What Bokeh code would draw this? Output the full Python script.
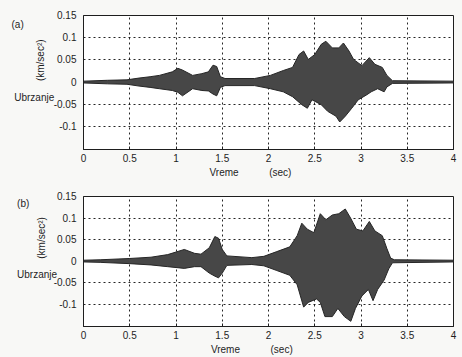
from bokeh.plotting import figure
from bokeh.layouts import column
from bokeh.models import FixedTicker, Range1d
from bokeh.embed import file_html
from bokeh.resources import INLINE

# ---------------- data (envelopes) ----------------
x_ticks = [0, 0.5, 1, 1.5, 2, 2.5, 3, 3.5, 4]
x_tick_labels = ["0", "0.5", "1", "1.5", "2", "2.5", "3", "3.5", "4"]
y_ticks = [-0.1, -0.05, 0, 0.05, 0.1, 0.15]
y_tick_labels = ["-0.1", "-0.05", "0", "0.05", "0.1", "0.15"]

# (a) upper / lower envelope of the acceleration record
a_up_t = [0, 0.26, 0.47, 0.6, 0.72, 0.82, 0.96, 1.02, 1.07, 1.18, 1.28, 1.35, 1.40, 1.44, 1.48,
          1.53, 1.85, 2.02, 2.16, 2.26, 2.33, 2.38, 2.43, 2.50, 2.57, 2.62, 2.69, 2.76, 2.81,
          2.87, 2.92, 3.01, 3.09, 3.15, 3.23, 3.28, 3.34, 4.0]
a_up_v = [0.002, 0.004, 0.005, 0.009, 0.012, 0.015, 0.023, 0.031, 0.027, 0.015, 0.019, 0.023,
          0.038, 0.035, 0.012, 0.008, 0.008, 0.015, 0.026, 0.033, 0.062, 0.070, 0.051, 0.062,
          0.085, 0.092, 0.077, 0.077, 0.088, 0.070, 0.051, 0.037, 0.055, 0.040, 0.033, 0.015,
          0.003, 0.002]
a_lo_t = [0, 0.26, 0.47, 0.6, 0.72, 0.82, 0.96, 1.02, 1.07, 1.18, 1.28, 1.35, 1.40, 1.44, 1.48,
          1.53, 1.85, 2.02, 2.16, 2.26, 2.36, 2.42, 2.47, 2.57, 2.64, 2.73, 2.77, 2.83, 2.90,
          2.97, 3.06, 3.11, 3.18, 3.25, 3.28, 3.34, 4.0]
a_lo_v = [-0.002, -0.004, -0.005, -0.009, -0.012, -0.015, -0.019, -0.023, -0.031, -0.015,
          -0.019, -0.020, -0.027, -0.031, -0.012, -0.008, -0.008, -0.015, -0.022, -0.033,
          -0.051, -0.059, -0.040, -0.051, -0.066, -0.077, -0.090, -0.077, -0.059, -0.040,
          -0.029, -0.022, -0.015, -0.022, -0.011, -0.003, -0.002]

# (b) upper / lower envelope
b_up_t = [0, 0.18, 0.5, 0.73, 0.91, 1.09, 1.2, 1.27, 1.36, 1.42, 1.46, 1.5, 1.55, 1.82, 1.95,
          2.09, 2.23, 2.31, 2.36, 2.42, 2.49, 2.56, 2.62, 2.69, 2.76, 2.83, 2.89, 2.95, 3.02,
          3.09, 3.15, 3.23, 3.28, 3.32, 3.36, 4.0]
b_up_v = [0.002, 0.003, 0.006, 0.009, 0.015, 0.027, 0.018, 0.016, 0.031, 0.057, 0.053, 0.027,
          0.012, 0.008, 0.011, 0.022, 0.033, 0.059, 0.088, 0.074, 0.066, 0.110, 0.096, 0.107,
          0.110, 0.121, 0.099, 0.074, 0.070, 0.092, 0.070, 0.059, 0.029, 0.007, 0.003, 0.002]
b_lo_t = [0, 0.18, 0.5, 0.73, 0.91, 1.09, 1.2, 1.27, 1.36, 1.42, 1.46, 1.5, 1.55, 1.82, 1.95,
          2.09, 2.23, 2.31, 2.38, 2.43, 2.52, 2.56, 2.61, 2.69, 2.75, 2.82, 2.89, 2.94, 3.01,
          3.08, 3.13, 3.18, 3.25, 3.30, 3.34, 4.0]
b_lo_v = [-0.002, -0.003, -0.006, -0.009, -0.013, -0.017, -0.013, -0.013, -0.028, -0.035,
          -0.039, -0.028, -0.010, -0.008, -0.011, -0.022, -0.033, -0.055, -0.107, -0.096,
          -0.088, -0.096, -0.129, -0.129, -0.110, -0.129, -0.140, -0.110, -0.081, -0.066,
          -0.092, -0.066, -0.044, -0.018, -0.004, -0.002]

FONT = "Liberation Sans"
BG = "#f8f8f6"
INK = "#1e1e1e"
NB = "\u00a0"


def make_panel(up_t, up_v, lo_t, lo_v, height, b_left, b_right, b_top, b_bottom,
               tag, tag_y, tag_pad, side_y, side_pad, unit_pad, unit_standoff, x_label):
    p = figure(width=462, height=height, output_backend="svg", toolbar_location=None,
               x_range=Range1d(0, 4), y_range=Range1d(-0.152, 0.15),
               min_border_left=b_left, min_border_right=b_right,
               min_border_top=b_top, min_border_bottom=b_bottom)
    p.background_fill_color = "white"
    p.border_fill_color = BG
    p.outline_line_color = INK
    p.outline_line_width = 1

    # y axis: numeric ticks plus the panel tag and the side caption as extra labels
    yt = y_ticks + [tag_y, side_y]
    yl = y_tick_labels + [tag + NB * tag_pad, "Ubrzanje" + NB * side_pad]
    p.yaxis.ticker = FixedTicker(ticks=yt)
    p.yaxis.major_label_overrides = dict(zip(yt, yl))
    p.xaxis.ticker = FixedTicker(ticks=x_ticks)
    p.xaxis.major_label_overrides = dict(zip(x_ticks, x_tick_labels))
    for ax in (p.xaxis, p.yaxis):
        ax.axis_line_color = INK
        ax.major_tick_line_color = INK
        ax.major_tick_out = 0
        ax.minor_tick_line_color = None
        ax.major_label_text_font = FONT
        ax.major_label_text_font_size = "10px"
        ax.major_label_text_color = INK
        ax.axis_label_text_font = FONT
        ax.axis_label_text_font_style = "normal"
        ax.axis_label_text_color = INK
    p.xaxis.major_tick_in = 3
    p.yaxis.major_tick_in = 0
    p.xaxis.major_label_standoff = 4
    p.yaxis.major_label_standoff = 7

    p.yaxis.axis_label = NB * unit_pad + "(km/sec\u00b2)"
    p.yaxis.axis_label_text_font_size = "10px"
    p.yaxis.axis_label_standoff = unit_standoff

    p.xaxis.axis_label = x_label
    p.xaxis.axis_label_text_font_size = "10px"
    p.xaxis.axis_label_standoff = 2

    p.xgrid.ticker = FixedTicker(ticks=x_ticks[1:-1])
    p.ygrid.ticker = FixedTicker(ticks=y_ticks[:-1])
    for g in (p.xgrid, p.ygrid):
        g.grid_line_color = "black"
        g.grid_line_dash = "2 3"
        g.grid_line_width = 1
        g.grid_line_alpha = 0.85

    xs = list(up_t) + list(lo_t)[::-1]
    ys = list(up_v) + list(lo_v)[::-1]
    p.patch(xs, ys, fill_color="#474747", line_color="#262626", line_width=1)
    return p


pa = make_panel(a_up_t, a_up_v, a_lo_t, a_lo_v, 180, 80, 9, 15, 29,
                "(a)", 0.13, 19, -0.034, 8, 16, -38,
                "Vreme" + NB * 11 + "(sec)" + NB * 13)
pb = make_panel(b_up_t, b_up_v, b_lo_t, b_lo_v, 177, 83, 2, 16, 26,
                "(b)", 0.134, 17, -0.031, 7, 17, -33,
                "Vreme" + NB * 11 + "(sec)" + NB * 12)

layout = column(pa, pb, spacing=0)
layout.styles = {"background-color": BG}

open("out.html", "w").write(file_html(layout, INLINE))
